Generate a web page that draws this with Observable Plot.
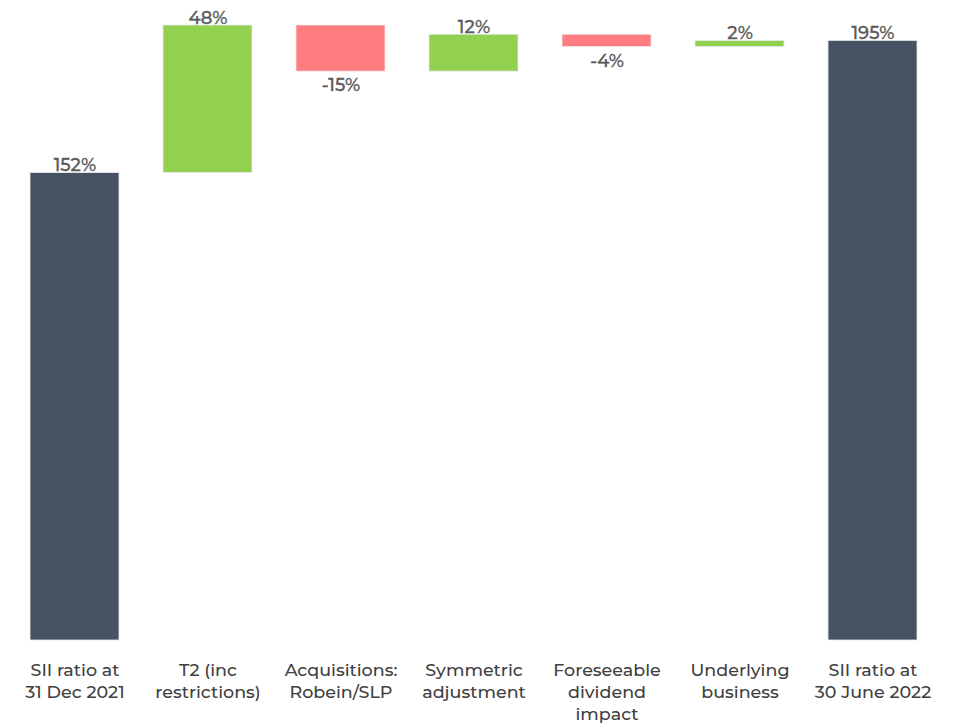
<!DOCTYPE html>
<html>
<head>
<meta charset="utf-8">
<script src="https://cdn.jsdelivr.net/npm/d3@7"></script>
<script src="https://cdn.jsdelivr.net/npm/@observablehq/plot@0.6"></script>
<style>
  html, body { margin: 0; padding: 0; background: #fff; }
  #chart svg { overflow: visible; }
</style>
</head>
<body>
<div id="chart"></div>
<script>
const categories = [
  "SII ratio at\n31 Dec 2021",
  "T2 (inc\nrestrictions)",
  "Acquisitions:\nRobein/SLP",
  "Symmetric\nadjustment",
  "Foreseeable\ndividend\nimpact",
  "Underlying\nbusiness",
  "SII ratio at\n30 June 2022"
];
const values = [152, 48, -15, 12, -4, 2, 195];
const kinds = ["total", "delta", "delta", "delta", "delta", "delta", "total"];

let running = 0;
const rows = categories.map((c, i) => {
  let y1, y2;
  if (kinds[i] === "total") { y1 = 0; y2 = values[i]; running = values[i]; }
  else { y1 = running; y2 = running + values[i]; running = y2; }
  const type = kinds[i] === "total" ? "total" : (values[i] >= 0 ? "up" : "down");
  return {cat: c, value: values[i], y1, y2, type, top: Math.max(y1, y2), bottom: Math.min(y1, y2)};
});

const fontFamily = "'Montserrat Medium', Montserrat, 'DejaVu Sans', sans-serif";
const chart = Plot.plot({
  width: 954,
  height: 725,
  marginTop: 25,
  marginBottom: 85,
  marginLeft: 30,
  marginRight: 36,
  style: {fontFamily, background: "#fff"},
  x: {domain: categories, paddingInner: 0.33, paddingOuter: 0, label: null},
  y: {domain: [0, 200], axis: null},
  color: {domain: ["total", "up", "down"], range: ["#475263", "#92d050", "#ff7c80"]},
  marks: [
    Plot.axisX({tickSize: 0, tickPadding: 20, fontSize: 17.5, fontWeight: 500, fill: "#404040", stroke: "#404040", strokeWidth: 0.4, lineHeight: 1.26, textAnchor: "middle", lineAnchor: "top"}),
    Plot.barY(rows, {x: "cat", y1: "y1", y2: "y2", fill: "type", stroke: "#eaeaea", strokeWidth: 0.8}),
    Plot.text(rows.filter(d => d.value >= 0), {x: "cat", y: "top", text: d => d.value + "%", fontSize: 18, fontWeight: 500, fill: "#5a5a5a", stroke: "#5a5a5a", strokeWidth: 0.3, lineAnchor: "bottom", dy: -2}),
    Plot.text(rows.filter(d => d.value < 0), {x: "cat", y: "bottom", text: d => d.value + "%", fontSize: 18, fontWeight: 500, fill: "#5a5a5a", stroke: "#5a5a5a", strokeWidth: 0.3, lineAnchor: "top", dy: 7})
  ]
});
document.getElementById("chart").appendChild(chart);
</script>
</body>
</html>
